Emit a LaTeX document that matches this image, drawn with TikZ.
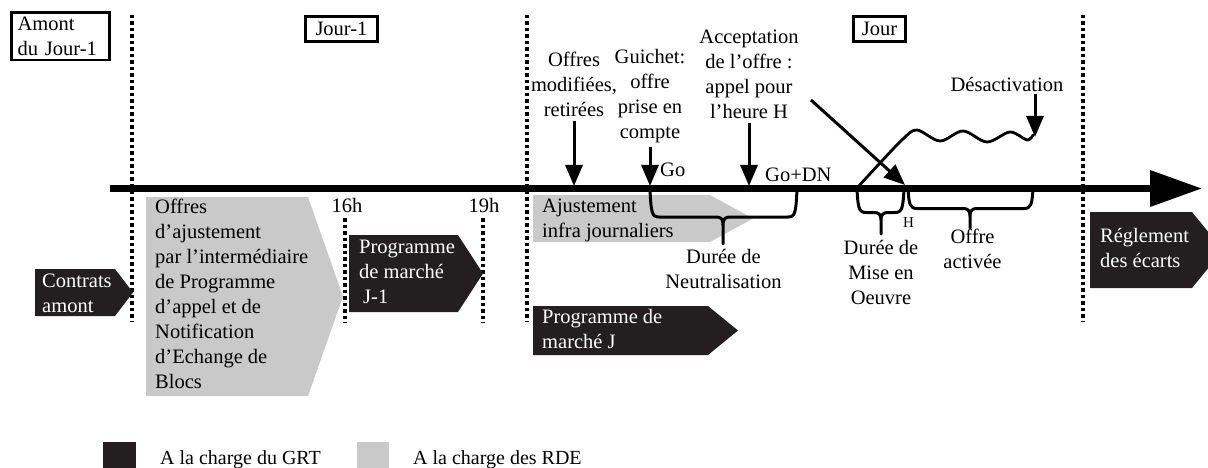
\documentclass[tikz,border=0pt]{standalone}
\usepackage{fontspec}
\setmainfont{Liberation Serif}
\usetikzlibrary{arrows.meta}
\definecolor{grtblack}{RGB}{35,31,32}
\definecolor{rdegray}{RGB}{200,201,200}

% pentagon "tag" shape: body from x1 to x2, point at xt, between y1 and y2
\newcommand\tagshape[6]{%
  \fill[#1] (#2,#3) -- (#4,#3) -- (#5,{(#3+#6)/2}) -- (#4,#6) -- (#2,#6) -- cycle;}
% brace hanging under the time axis: x1, x2, tip x, arm depth, tip depth
\newcommand\axisbrace[5]{%
  \draw[brc] (#1,189) .. controls ({#1+1},{#4-4}) and ({#1+2},#4) .. ({#1+9},#4)
    -- ({#3-7},#4) .. controls ({#3-2},#4) and (#3,{#4+2}) .. (#3,{#4+8}) -- (#3,#5)
    (#3,{#4+8}) .. controls (#3,{#4+2}) and ({#3+2},#4) .. ({#3+7},#4)
    -- ({#2-9},#4) .. controls ({#2-2},#4) and ({#2-1},{#4-4}) .. (#2,189);}

\begin{document}
\begin{tikzpicture}[x=1pt,y=-1pt,
  txt/.style={font=\fontsize{20.5}{25}\selectfont, inner sep=0pt},
  lbl/.style={txt, anchor=base, align=center},
  ltxt/.style={txt, anchor=base west, align=left},
  wtxt/.style={ltxt, text=white},
  frame/.style={draw, line width=2.6pt, txt, align=left},
  sep/.style={line width=3.2pt, dash pattern=on 3.5pt off 3pt},
  tick/.style={line width=3pt, -{Triangle[length=21pt,width=17pt]}},
  axis/.style={line width=7pt, -{Triangle[length=52pt,width=35pt]}},
  brc/.style={line width=3pt, line cap=round, line join=round},
]
\useasboundingbox (0,0) rectangle (1208,468);

% period separators
\draw[sep] (132,15) -- (132,322);
\draw[sep] (527,15) -- (527,322);
\draw[sep] (1083,15) -- (1083,322);
\draw[sep] (345,218) -- (345,323);
\draw[sep] (483,218) -- (483,323);

% period headers
\node[frame, anchor=north west, inner xsep=6pt, inner ysep=2pt, text width=86pt,
      minimum height=47.5pt] (amont) at (10.3,11.3) {Amont\\du Jour-1};
\node[frame, align=center, inner sep=0pt, minimum width=72.5pt, minimum height=25.5pt]
      (jourm1) at (341.5,29) {Jour-1};
\node[frame, align=center, inner sep=0pt, minimum width=52.5pt, minimum height=25.5pt]
      (jour) at (879.5,29) {Jour};

% activity tags (text anchored on the baseline of the last line)
\tagshape{grtblack}{35}{269}{115}{133}{316}
\node[wtxt] (contrats) at (42,312) {Contrats\\amont};

\tagshape{rdegray}{146}{197}{308}{343}{396}
\node[ltxt] (ajoffres) at (155,388) {Offres\\d'ajustement\\par l'intermédiaire\\de Programme\\d'appel et de\\Notification\\d'Echange de\\Blocs};

\tagshape{grtblack}{349}{235}{458}{483}{312}
\node[wtxt] (progm1) at (359,303) {Programme\\de marché\\\hspace*{4pt}J-1};

\tagshape{rdegray}{533}{195}{710}{753}{242}
\node[ltxt] (ajinfra) at (542,237) {Ajustement\\infra journaliers};

\tagshape{grtblack}{533}{306}{708}{738}{355}
\node[wtxt] (progj) at (542,348) {Programme de\\marché J};

\tagshape{grtblack}{1090}{212}{1192}{1223}{288}
\node[wtxt] (reglement) at (1100,267) {Réglement\\des écarts};

% hour marks
\node[lbl] (h16) at (347,212) {16h};
\node[lbl] (h19) at (484,212) {19h};

% time axis
\coordinate (t0) at (110,188.5);
\coordinate (t1) at (1202,188.5);
\draw[axis] (t0) -- (t1);

% events above the axis
\node[lbl] (offres) at (574,117) {Offres\\modifiées,\\retirées};
\node[lbl] (guichet) at (650,139) {Guichet:\\offre\\prise en\\compte};
\node[lbl] (accept) at (749,119) {Acceptation\\de l'offre :\\appel pour\\l'heure H};
\node[lbl] (desact) at (1007,92) {Désactivation};
\node[ltxt] (go) at (660,176) {Go};
\node[ltxt] (godn) at (765,182) {Go+DN};

\coordinate (eOff) at (574,186);
\coordinate (eGo) at (650,186);
\coordinate (eAcc) at (749,186);
\coordinate (callFrom) at (811,100);
\coordinate (eH) at (905,185);
\coordinate (wStart) at (857,188);
\coordinate (wEnd) at (1035,137);

\draw[tick, shorten <=4pt] (offres.south) -- (eOff);
\draw[tick, shorten <=3pt] (guichet.south) -- (eGo);
\draw[tick, shorten <=4pt] (accept.south) -- (eAcc);
\draw[tick] (callFrom) -- (eH);
\draw[tick, shorten <=2pt] (desact.south -| wEnd) -- (wEnd);

% activation profile
\draw[line width=2.8pt, line join=round, line cap=round]
  plot[smooth, tension=0.55] coordinates {(wStart) (880,163) (903,139) (917,130)
    (940,141) (963,131) (987,142) (1010,132) (1027,140) (1033,135)};

% durations under the axis
\axisbrace{650}{797}{723}{217}{244}
\axisbrace{857}{904}{881}{212.5}{234}
\axisbrace{908}{1033}{970}{208.5}{228}

\node[lbl] (neutral) at (723.5,288) {Durée de\\Neutralisation};
\node[lbl] (miseoeuvre) at (881,304) {Durée de\\Mise en\\Oeuvre};
\node[lbl] (activee) at (972.5,268) {Offre\\activée};
\node[txt, font=\fontsize{15}{18}\selectfont, anchor=base] (hlabel) at (908.5,227) {H};

% legend
\fill[grtblack] (103,442) rectangle (136,475);
\node[ltxt, font=\fontsize{20}{24}\selectfont] (leg1) at (160,464) {A la charge du GRT};
\fill[rdegray] (357,442) rectangle (389,475);
\node[ltxt, font=\fontsize{20}{24}\selectfont] (leg2) at (413,464) {A la charge des RDE};
\end{tikzpicture}
\end{document}
